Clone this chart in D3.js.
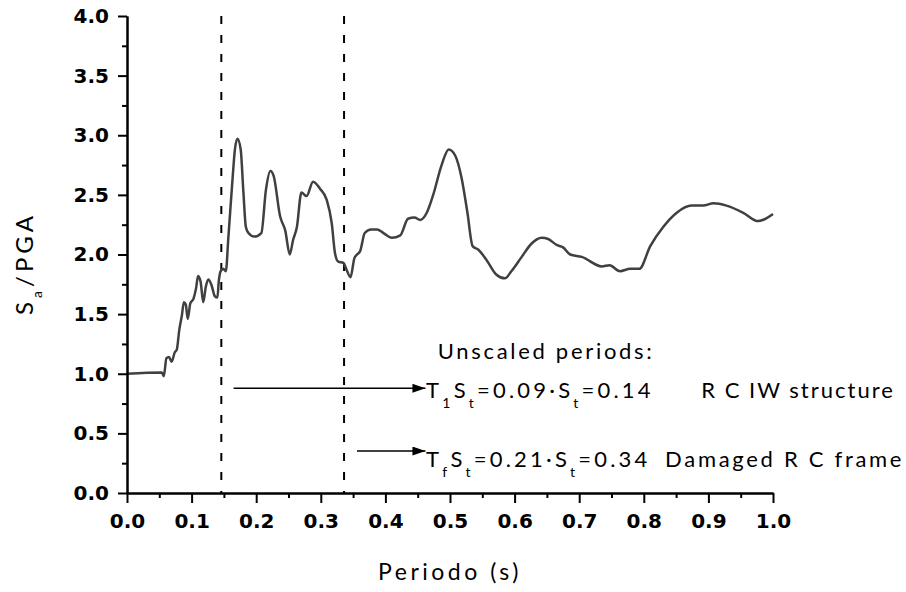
<html>
<head>
<title>Sa/PGA spectrum</title>
<script type="text/javascript" src="https://cdn.jsdelivr.net/npm/d3@7/dist/d3.min.js"></script>
<style>
    body{
        margin: 0;
        background: #fff;
    }
    .axis path, .axis line{
        stroke: #000;
        stroke-width: 2px;
    }
    .axis text{
        font-family: "DejaVu Sans";
        font-weight: bold;
        font-size: 20px;
        fill: #000;
    }
    #spectrum{
        fill: none;
        stroke: #404040;
        stroke-width: 2.5px;
        stroke-linejoin: round;
    }
    .period_line{
        stroke: #000;
        stroke-width: 2px;
        stroke-dasharray: 8,11;
    }
    .arrow{
        stroke: #000;
        stroke-width: 1.6px;
    }
    .note{
        font-family: Lato;
        font-size: 22px;
        letter-spacing: 2.4px;
        fill: #000;
    }
</style>
</head>
<body>
<script type="text/javascript">
// values
let periods = [0.000,0.054,0.057,0.061,0.065,0.069,0.074,0.077,0.081,0.085,
               0.088,0.091,0.094,0.098,0.103,0.107,0.110,0.114,0.118,0.122,
               0.126,0.131,0.136,0.140,0.142,0.145,0.149,0.153,0.157,0.164,
               0.167,0.171,0.176,0.180,0.184,0.188,0.197,0.208,0.215,0.222,
               0.227,0.237,0.245,0.252,0.257,0.263,0.270,0.278,0.288,0.299,
               0.309,0.317,0.322,0.327,0.335,0.340,0.346,0.352,0.356,0.361,
               0.368,0.378,0.387,0.397,0.410,0.423,0.435,0.445,0.454,0.464,
               0.474,0.487,0.498,0.508,0.518,0.527,0.535,0.544,0.557,0.572,
               0.585,0.595,0.611,0.626,0.642,0.652,0.665,0.675,0.686,0.704,
               0.735,0.747,0.763,0.779,0.793,0.810,0.830,0.851,0.874,0.892,
               0.908,0.928,0.954,0.977,1.000]
let saPga =   [1.00,1.01,0.98,1.13,1.14,1.10,1.18,1.20,1.37,1.49,
               1.60,1.58,1.46,1.59,1.63,1.72,1.82,1.77,1.60,1.73,
               1.79,1.74,1.65,1.64,1.77,1.86,1.88,1.86,2.15,2.68,
               2.88,2.97,2.88,2.54,2.23,2.18,2.15,2.18,2.54,2.70,
               2.66,2.32,2.20,2.00,2.12,2.23,2.52,2.49,2.61,2.55,
               2.46,2.26,2.01,1.94,1.93,1.87,1.81,1.97,2.00,2.03,
               2.18,2.21,2.21,2.18,2.14,2.16,2.30,2.31,2.29,2.35,
               2.50,2.75,2.88,2.83,2.64,2.35,2.07,2.04,1.95,1.83,
               1.80,1.86,1.98,2.09,2.14,2.13,2.08,2.06,2.00,1.98,
               1.90,1.91,1.86,1.88,1.88,2.07,2.23,2.35,2.41,2.41,
               2.43,2.41,2.35,2.28,2.34]
let xTicks = [0,0.1,0.2,0.3,0.4,0.5,0.6,0.7,0.8,0.9,1.0]
let xMinor = [0.05,0.15,0.25,0.35,0.45,0.55,0.65,0.75,0.85,0.95]
let yTicks = [0,0.5,1.0,1.5,2.0,2.5,3.0,3.5,4.0]
let yMinor = [0.25,0.75,1.25,1.75,2.25,2.75,3.25,3.75]
let scaledPeriods = [0.146,0.336]   // T1*St and Tf*St

let w = 906
let h = 592
let svg = d3.select("body")
            .append("svg")
            .attr("width",w)
            .attr("height",h)

let xScale = d3.scaleLinear()
                .domain([0,1])
                .range([127,773])
let yScale = d3.scaleLinear()
                .domain([0,4])
                .range([493,16])

// arrowhead
svg.append("defs")
    .append("marker")
    .attr("id","head")
    .attr("markerUnits","userSpaceOnUse")
    .attr("markerWidth",14)
    .attr("markerHeight",9)
    .attr("refX",13)
    .attr("refY",4.5)
    .attr("orient","auto")
    .append("path")
    .attr("d","M0,0 L13,4.5 L0,9 Z")
    .attr("fill","#000")

// dashed period lines
svg.selectAll(".period_line")
    .data(scaledPeriods)
    .enter()
    .append("line")
    .attr("class","period_line")
    .attr("x1",d=>xScale(d))
    .attr("x2",d=>xScale(d))
    .attr("y1",yScale(4))
    .attr("y2",yScale(0))

// spectrum
let line = d3.line()
            .x((d,i)=>xScale(periods[i]))
            .y(d=>yScale(d))
            .curve(d3.curveMonotoneX)
svg.append("path")
    .datum(saPga)
    .attr("id","spectrum")
    .attr("d",line)

// axes
let xAxis = d3.axisBottom(xScale)
                .tickValues(xTicks)
                .tickFormat(d3.format(".1f"))
                .tickSize(10)
                .tickSizeOuter(0)
                .tickPadding(11)
let yAxis = d3.axisLeft(yScale)
                .tickValues(yTicks)
                .tickFormat(d3.format(".1f"))
                .tickSize(9)
                .tickSizeOuter(0)
                .tickPadding(9)
svg.append("g")
    .attr("class","axis")
    .attr("transform","translate(0,"+yScale(0)+")")
    .call(d3.axisBottom(xScale).tickValues(xMinor).tickSize(5).tickFormat("").tickSizeOuter(0))
svg.append("g")
    .attr("class","axis")
    .attr("transform","translate(0,"+yScale(0)+")")
    .call(xAxis)
svg.append("g")
    .attr("class","axis")
    .attr("transform","translate("+xScale(0)+",0)")
    .call(d3.axisLeft(yScale).tickValues(yMinor).tickSize(5).tickFormat("").tickSizeOuter(0))
svg.append("g")
    .attr("class","axis")
    .attr("transform","translate("+xScale(0)+",0)")
    .call(yAxis)

// text with subscripts: parts = [[string, isSub], ...]
function richText(sel, parts, subShift){
    let shifted = false
    parts.forEach(p=>{
        let t = sel.append("tspan").text(p[0])
        if (p[1] && !shifted){
            t.attr("dy",subShift).style("font-size","14px")
            shifted = true
        } else if (p[1]){
            t.style("font-size","14px")
        } else if (shifted){
            t.attr("dy",-subShift)
            shifted = false
        }
    })
    return sel
}

// axis titles
svg.append("text")
    .attr("class","note")
    .attr("x",(xScale(0)+xScale(1))/2)
    .attr("y",580)
    .attr("text-anchor","middle")
    .style("font-size","23px")
    .style("letter-spacing","3.5px")
    .text("Periodo (s)")
richText(svg.append("text")
            .attr("class","note")
            .attr("text-anchor","middle")
            .attr("transform","translate(33,"+((yScale(0)+yScale(4))/2+9)+") rotate(-90)")
            .style("font-size","24px")
            .style("letter-spacing","4px"),
         [["S",false],["a",true],["/PGA",false]], 9)

// annotations
svg.append("text")
    .attr("class","note")
    .attr("x",xScale(0.481))
    .attr("y",yScale(1.124))
    .style("letter-spacing","2.7px")
    .text("Unscaled periods:")

svg.append("line")
    .attr("class","arrow")
    .attr("x1",xScale(0.165)).attr("x2",xScale(0.462))
    .attr("y1",yScale(0.878)).attr("y2",yScale(0.878))
    .attr("marker-end","url(#head)")
svg.append("line")
    .attr("class","arrow")
    .attr("x1",xScale(0.356)).attr("x2",xScale(0.462))
    .attr("y1",yScale(0.352)).attr("y2",yScale(0.352))
    .attr("marker-end","url(#head)")

richText(svg.append("text")
            .attr("class","note")
            .attr("x",xScale(0.463))
            .attr("y",yScale(0.797))
            .style("letter-spacing","3.2px"),
         [["T",false],["1",true],["S",false],["t",true],["=0.09·S",false],["t",true],["=0.14",false]], 10)
svg.append("text")
    .attr("class","note")
    .attr("x",xScale(0.889))
    .attr("y",yScale(0.797))
    .style("letter-spacing","2px")
    .text("R C IW  structure")

richText(svg.append("text")
            .attr("class","note")
            .attr("x",xScale(0.463))
            .attr("y",yScale(0.218))
            .style("letter-spacing","3.2px"),
         [["T",false],["f",true],["S",false],["t",true],["=0.21·S",false],["t",true],["=0.34",false]], 10)
svg.append("text")
    .attr("class","note")
    .attr("x",xScale(0.833))
    .attr("y",yScale(0.218))
    .style("letter-spacing","2.7px")
    .text("Damaged R C frame")
</script>
</body>
</html>
